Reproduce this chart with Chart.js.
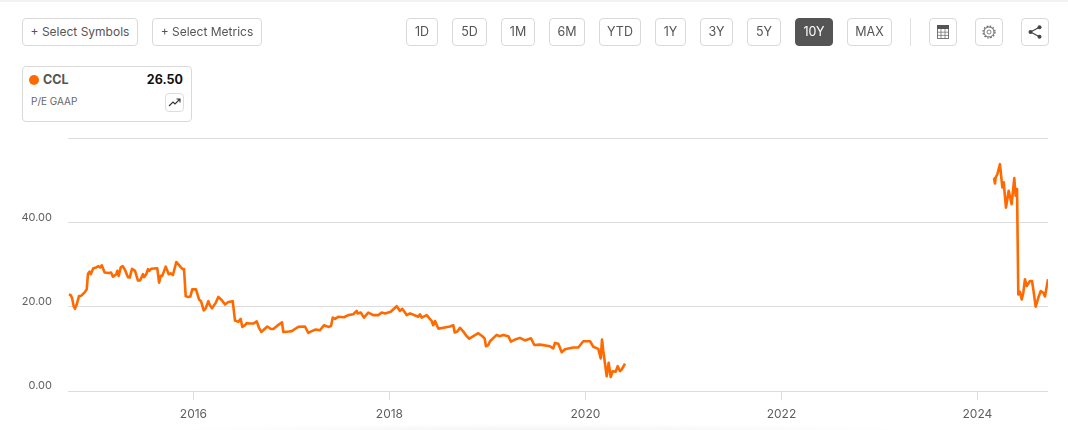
<!DOCTYPE html>
<html>
<head>
<meta charset="utf-8">
<title>CCL P/E GAAP</title>
<script src="https://cdn.jsdelivr.net/npm/chart.js@4"></script>
<style>
html,body{margin:0;padding:0;background:#fff;width:1068px;height:430px;overflow:hidden;font-family:Inter,"Open Sans",sans-serif;}
#stage{position:relative;width:1068px;height:430px;overflow:hidden;}
#strip{position:absolute;left:0;top:0;width:1068px;height:2px;background:#f6f1f1;}
#glow{position:absolute;left:180px;top:424px;width:720px;height:12px;background:radial-gradient(ellipse at center,#f4f4f4 0%,#fff 72%);}
canvas{position:absolute;left:0;top:0;}
.btn{position:absolute;top:18px;height:26px;box-sizing:content-box;border:1px solid #d9d9d9;border-radius:4px;background:#fff;color:#555;font-size:12.5px;line-height:26px;text-align:center;white-space:nowrap;}
.btn.on{background:#555;border-color:#555;color:#fff;}
.btn svg{position:absolute;left:50%;top:50%;transform:translate(-50%,-50%);}
#divider{position:absolute;left:910px;top:18px;width:1px;height:28px;background:#e0e0e0;}
#card{position:absolute;left:22px;top:66px;width:168px;height:54px;border:1px solid #d9d9d9;border-radius:4px;background:#fff;}
#dot{position:absolute;left:6px;top:8px;width:10px;height:10px;border-radius:50%;background:#ff6a00;}
#sym{position:absolute;left:20px;top:5px;font-size:12.5px;line-height:16px;font-weight:700;color:#555;}
#val{position:absolute;right:8px;top:5px;font-size:12.5px;line-height:16px;font-weight:700;color:#111;}
#metric{position:absolute;left:8px;top:27px;font-size:10px;line-height:14px;color:#666;}
#trend{position:absolute;left:142px;top:26px;width:17px;height:17px;border:1px solid #ddd;border-radius:4px;}
#trend svg{position:absolute;left:2px;top:2px;}
</style>
</head>
<body>
<div id="stage">
  <div id="strip"></div>
  <div id="glow"></div>
  <canvas id="chart" width="1068" height="430"></canvas>
  <div class="btn" style="left:22px;width:114px;font-size:12px">+ Select Symbols</div>
  <div class="btn" style="left:152px;width:108px;font-size:12px">+ Select Metrics</div>
  <div class="btn" style="left:406px;width:30px">1D</div>
  <div class="btn" style="left:452px;width:33px">5D</div>
  <div class="btn" style="left:501px;width:32px">1M</div>
  <div class="btn" style="left:549px;width:34px">6M</div>
  <div class="btn" style="left:599px;width:40px">YTD</div>
  <div class="btn" style="left:655px;width:29px">1Y</div>
  <div class="btn" style="left:700px;width:31px">3Y</div>
  <div class="btn" style="left:747px;width:32px">5Y</div>
  <div class="btn on" style="left:795px;width:36px">10Y</div>
  <div class="btn" style="left:847px;width:43px">MAX</div>
  <div id="divider"></div>
  <div class="btn" style="left:929px;width:26px"><svg width="12" height="14" viewBox="0 0 12 14"><rect x=".4" y=".4" width="11.2" height="13.2" fill="#fff" stroke="#555" stroke-width=".8"/><rect x="0" y="0" width="12" height="4" fill="#555"/><path d="M0 7.2H12M0 10.4H12M4 4V14M8 4V14" fill="none" stroke="#666" stroke-width=".7"/></svg></div>
  <div class="btn" style="left:975px;width:26px"><svg width="14" height="14" viewBox="0 0 14 14"><circle cx="7" cy="7" r="2" fill="none" stroke="#666" stroke-width=".8"/><circle cx="7" cy="7" r="5" fill="none" stroke="#666" stroke-width="1"/><circle cx="7" cy="7" r="6" fill="none" stroke="#666" stroke-width="1.2" stroke-dasharray="1.6 1.54"/></svg></div>
  <div class="btn" style="left:1021px;width:26px"><svg width="14" height="14" viewBox="0 0 14 14"><path d="M11.5 2.2L2.5 7L11.5 11.8" fill="none" stroke="#444" stroke-width="1.2"/><circle cx="11.5" cy="2.2" r="2" fill="#444"/><circle cx="2.5" cy="7" r="2" fill="#444"/><circle cx="11.5" cy="11.8" r="2" fill="#444"/></svg></div>
  <div id="card">
    <div id="dot"></div>
    <div id="sym">CCL</div>
    <div id="val">26.50</div>
    <div id="metric">P/E GAAP</div>
    <div id="trend"><svg width="13" height="13" viewBox="0 0 13 13"><path d="M1 10L5 6L7 8L11.5 3.5M8.5 3H12V6.5" fill="none" stroke="#333" stroke-width="1.1"/></svg></div>
  </div>
</div>
<script>
const tickYears = [2016, 2018, 2020, 2022, 2024];
const tickValues = [0, 20, 40, 60];
const dates = [
2014.73,2014.748,2014.761,2014.778,2014.791,2014.809,2014.832,2014.856,2014.89,2014.911,2014.924,2014.941,2014.952,2014.978,
2015.009,2015.029,2015.047,2015.064,2015.094,2015.138,2015.159,2015.179,2015.213,2015.223,2015.237,2015.258,2015.278,2015.302,2015.332,2015.35,2015.373,2015.404,2015.434,2015.455,2015.485,2015.496,2015.519,2015.536,2015.55,2015.57,2015.631,2015.649,2015.666,2015.682,2015.717,2015.748,2015.768,2015.791,2015.825,2015.87,2015.89,2015.904,2015.921,2015.944,2015.968,2015.988,
2016.026,2016.057,2016.077,2016.105,2016.125,2016.152,2016.169,2016.189,2016.227,2016.254,2016.288,2016.322,2016.356,2016.401,2016.424,2016.458,2016.482,2016.499,2016.526,2016.543,2016.57,2016.611,2016.646,2016.669,2016.692,2016.72,2016.754,2016.791,2016.815,2016.856,2016.904,2016.917,2016.975,
2017.003,2017.036,2017.07,2017.138,2017.172,2017.207,2017.248,2017.291,2017.332,2017.376,2017.404,2017.421,2017.444,2017.478,2017.536,2017.58,2017.631,2017.666,2017.676,2017.707,2017.74,2017.784,2017.835,2017.886,2017.921,2017.955,
2018.013,2018.074,2018.108,2018.131,2018.176,2018.21,2018.294,2018.312,2018.329,2018.38,2018.431,2018.447,2018.465,2018.499,2018.55,2018.618,2018.652,2018.666,2018.693,2018.72,2018.754,2018.781,2018.815,2018.856,2018.907,2018.948,2018.972,2018.985,
2019.009,2019.026,2019.094,2019.121,2019.162,2019.213,2019.24,2019.281,2019.332,2019.383,2019.444,2019.478,2019.536,2019.638,2019.672,2019.689,2019.723,2019.758,2019.791,2019.876,2019.927,2019.978,
2020.047,2020.08,2020.131,2020.156,2020.169,2020.182,2020.217,2020.237,2020.258,2020.278,2020.309,2020.329,2020.353,2020.37,2020.404,
2022.0,
2024.169,2024.179,2024.186,2024.203,2024.23,2024.254,2024.268,2024.291,2024.319,2024.349,2024.376,2024.39,2024.393,2024.404,2024.417,2024.434,2024.452,2024.468,2024.485,2024.503,2024.536,2024.557,2024.57,2024.594,2024.621,2024.646,2024.672,2024.689,2024.72
];
const peValues = [
22.9,22.7,22.1,20.1,19.5,20.5,22.5,22.6,23.4,24.1,27.8,28.3,27.7,29.1,
29.3,29.6,29.3,29.8,28.1,28.0,28.1,27.1,27.7,28.5,27.3,29.3,29.6,28.7,27.0,26.9,29.0,28.5,26.2,26.2,27.7,27.0,27.7,28.9,28.5,29.0,29.1,25.7,27.3,27.3,29.5,27.7,27.9,27.5,30.6,29.4,28.9,28.9,22.5,22.3,22.4,24.1,
24.1,21.7,21.3,19.1,19.6,21.3,20.3,19.6,20.9,22.3,21.6,20.5,21.1,21.3,16.7,16.4,17.1,15.2,15.6,16.1,16.0,16.0,16.5,15.0,14.0,14.6,15.3,14.7,14.7,15.5,16.3,14.0,14.1,
14.2,14.7,15.2,15.3,13.8,14.2,14.6,14.4,15.6,15.2,15.4,17.4,17.1,17.6,17.5,18.0,18.2,19.0,18.4,18.6,17.4,18.6,18.0,18.0,18.6,18.4,
18.8,20.1,19.0,19.5,18.0,18.4,17.6,18.2,17.4,18.0,16.6,15.6,16.6,14.8,15.0,15.3,15.6,13.9,14.1,15.0,14.1,13.2,12.4,13.0,13.7,13.0,12.4,10.6,
10.9,11.8,13.3,13.0,13.3,13.0,11.7,12.2,12.6,12.0,12.5,10.9,11.0,10.6,10.1,11.4,11.2,9.2,9.9,10.3,10.3,11.8,
11.8,10.5,10.0,7.7,12.2,9.5,3.5,6.7,3.3,4.7,4.6,5.9,4.7,5.1,6.5,
null,
50.5,49.2,50.6,51.4,53.8,48.3,49.5,43.5,47.5,44.3,50.5,46.3,47.9,47.9,22.9,23.5,21.7,23.3,26.5,24.9,26.1,26.1,24.1,20.0,22.1,23.7,23.3,22.4,26.5
];

new Chart(document.getElementById('chart'), {
  type: 'line',
  data: {
    datasets: [{
      label: 'CCL',
      data: dates.map((d, i) => ({ x: d, y: peValues[i] })),
      borderColor: '#ff6a00',
      borderWidth: 2.6,
      pointRadius: 0,
      tension: 0,
      spanGaps: false,
      borderJoinStyle: 'round',
      fill: false
    }]
  },
  options: {
    responsive: false,
    animation: false,
    layout: { padding: { left: 0, right: 20, top: 138, bottom: 0 } },
    plugins: { legend: { display: false }, tooltip: { enabled: false } },
    scales: {
      x: {
        type: 'linear',
        min: 2014.72,
        max: 2024.72,
        afterBuildTicks: s => { s.ticks = tickYears.map(v => ({ value: v })); },
        afterFit: s => { s.height = 39; },
        grid: { drawOnChartArea: false, drawTicks: true, tickLength: 9, color: '#dcdcdc', lineWidth: 1 },
        border: { display: false },
        ticks: {
          autoSkip: false, maxRotation: 0, padding: 7,
          color: '#5f5f5f',
          font: { family: 'Inter', size: 12 },
          callback: v => String(v)
        }
      },
      y: {
        min: 0,
        max: 60,
        afterBuildTicks: s => { s.ticks = tickValues.map(v => ({ value: v })); },
        afterFit: s => { s.width = 68; },
        grid: { drawTicks: false, color: '#dcdcdc', lineWidth: 1 },
        border: { display: false },
        ticks: {
          padding: 16,
          labelOffset: -5,
          color: '#5f5f5f',
          font: { family: 'Inter', size: 11 },
          callback: v => v === 60 ? '' : v.toFixed(2)
        }
      }
    }
  }
});
</script>
</body>
</html>
